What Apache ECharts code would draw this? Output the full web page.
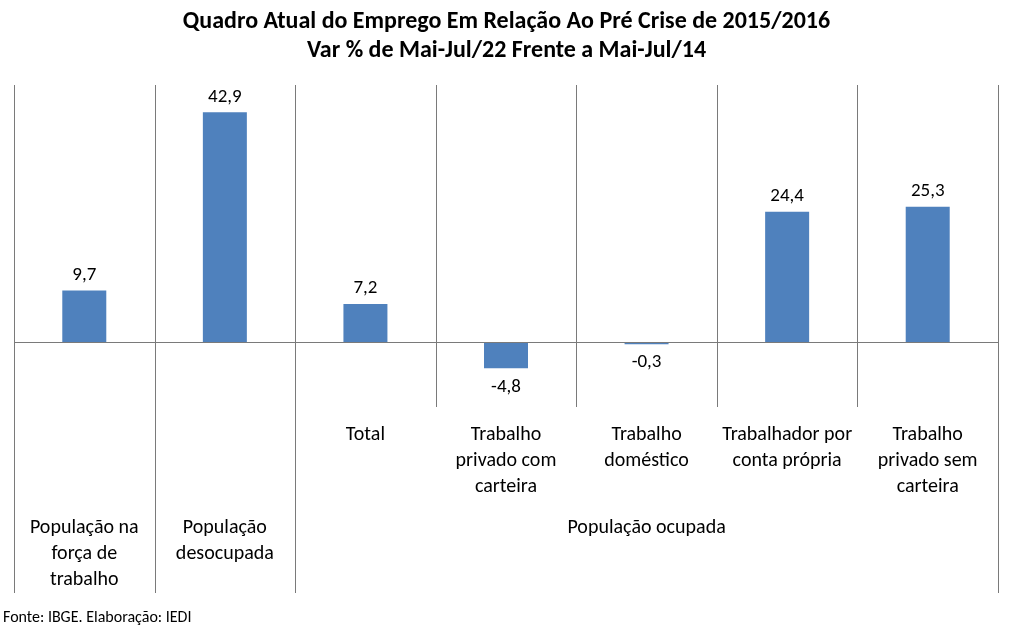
<!DOCTYPE html>
<html>
<head>
<meta charset="utf-8">
<script src="https://cdn.jsdelivr.net/npm/echarts@6/dist/echarts.min.js"></script>
<style>
html,body{margin:0;padding:0;background:#fff;}
#c{width:1013px;height:631px;}
</style>
</head>
<body>
<div id="c"></div>
<script>
var categories = ['População na força de trabalho', 'População desocupada', 'Total', 'Trabalho privado com carteira', 'Trabalho doméstico', 'Trabalhador por conta própria', 'Trabalho privado sem carteira'];
var innerLabels = ['', '', 'Total', 'Trabalho\nprivado com\ncarteira', 'Trabalho\ndoméstico', 'Trabalhador por\nconta própria', 'Trabalho\nprivado sem\ncarteira'];
var groupLabels = ['População na\nforça de\ntrabalho', 'População\ndesocupada', '', '', 'População ocupada', '', ''];
var values = [9.7, 42.9, 7.2, -4.8, -0.3, 24.4, 25.3];
var titleText = 'Quadro Atual do Emprego Em Relação Ao Pré Crise de 2015/2016\nVar % de Mai-Jul/22 Frente a Mai-Jul/14';
var sourceText = 'Fonte: IBGE. Elaboração: IEDI';
var longSeparators = [0, 1, 2, 7];

var FONT = 'Carlito, Lato, sans-serif';
var LINE = '#7a7a7a';
var chart = echarts.init(document.getElementById('c'));
var option = {
  animation: false,
  textStyle: {fontFamily: FONT},
  title: {
    text: titleText,
    left: 'center', top: 2,
    textStyle: {fontFamily: FONT, fontSize: 24, fontWeight: 'bold', color: '#000', lineHeight: 29}
  },
  grid: {left: 14, right: 15, top: 85, bottom: 224},
  xAxis: [{
    type: 'category', data: categories, position: 'bottom',
    axisLine: {show: false}, axisTick: {show: false}, splitLine: {show: false},
    axisLabel: {interval: 0, margin: 15, color: '#000', fontFamily: FONT, fontSize: 20, lineHeight: 26,
      formatter: function (v, i) { return innerLabels[i]; }}
  }, {
    type: 'category', data: categories, position: 'bottom',
    axisLine: {show: false}, axisTick: {show: false}, splitLine: {show: false},
    axisLabel: {interval: 0, margin: 108, color: '#000', fontFamily: FONT, fontSize: 20, lineHeight: 26,
      formatter: function (v, i) { return groupLabels[i]; }}
  }],
  yAxis: {type: 'value', min: -12, max: 48, show: false, splitLine: {show: false}},
  series: [{
    type: 'bar', data: values.map(function (v) {
      return {value: v, label: {position: v < 0 ? 'bottom' : 'top', distance: v < 0 ? 9 : 6}};
    }),
    barWidth: 44,
    itemStyle: {color: '#4F81BD'},
    label: {show: true, color: '#000', fontFamily: FONT, fontSize: 19,
      formatter: function (p) { return p.value.toFixed(1).replace('.', ','); }},
    markLine: {
      silent: true, symbol: 'none', label: {show: false},
      lineStyle: {color: LINE, width: 1, type: 'solid'},
      data: [{yAxis: 0}]
    }
  }],
  graphic: [{
    type: 'text', left: 3, top: 610,
    style: {text: sourceText, fontFamily: FONT, fontSize: 16, fill: '#000'}
  }]
};
chart.setOption(option);

var c0 = chart.convertToPixel({xAxisIndex: 0}, 0);
var c1 = chart.convertToPixel({xAxisIndex: 0}, 1);
var band = c1 - c0;
var yTop = chart.convertToPixel({yAxisIndex: 0}, 48);
var yBot = chart.convertToPixel({yAxisIndex: 0}, -12);
var lines = [];
for (var i = 0; i <= categories.length; i++) {
  var x = Math.round(c0 - band / 2 + i * band) + 0.5;
  var y2 = longSeparators.indexOf(i) >= 0 ? yBot + 186 : yBot;
  lines.push({type: 'line', shape: {x1: x, y1: yTop, x2: x, y2: y2}, style: {stroke: LINE, lineWidth: 1}, silent: true});
}
chart.setOption({graphic: option.graphic.concat(lines)});
</script>
</body>
</html>
